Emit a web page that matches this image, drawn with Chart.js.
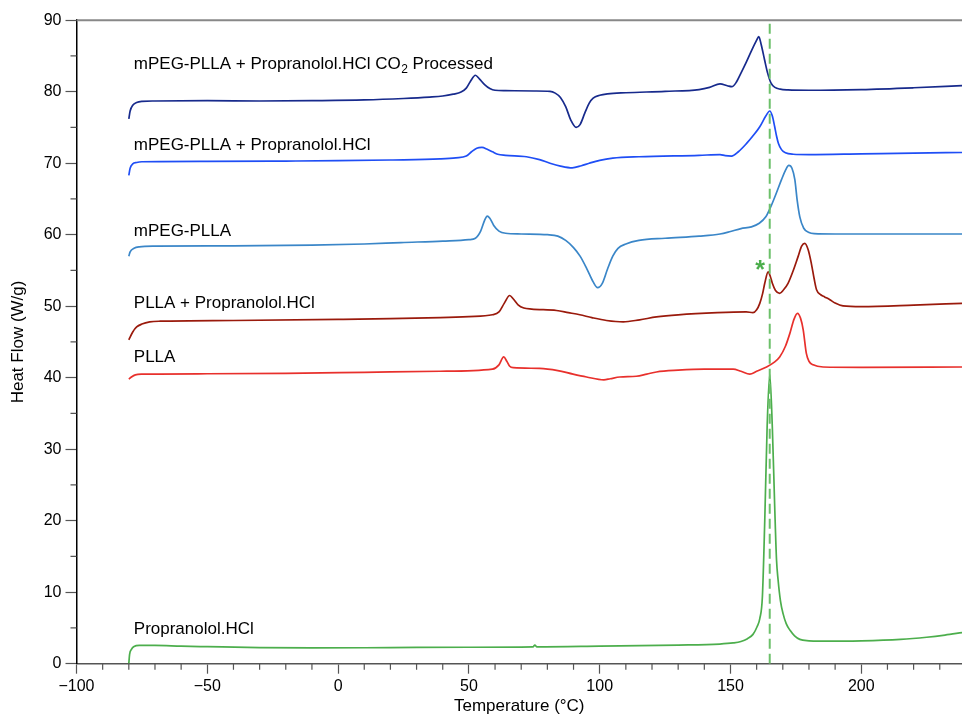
<!DOCTYPE html>
<html><head><meta charset="utf-8">
<script src="https://cdn.jsdelivr.net/npm/chart.js@4.4.1/dist/chart.umd.min.js"></script>
<style>html,body{margin:0;padding:0;background:#fff;}#wrap{width:962px;height:714px;}</style>
</head><body><div id="wrap"><canvas id="c" width="962" height="714"></canvas></div>
<script>
const FONT = '"Liberation Sans", Arial, Helvetica, sans-serif';

// ---- axes ----
const xTicks = [-100, -50, 0, 50, 100, 150, 200];
const xMinorTicks = [-90, -80, -70, -60, -40, -30, -20, -10, 10, 20, 30, 40, 60, 70, 80, 90, 110, 120, 130, 140, 160, 170, 180, 190, 210, 220, 230];
const yTicks = [0, 10, 20, 30, 40, 50, 60, 70, 80, 90];
const yMinorTicks = [5, 15, 25, 35, 45, 55, 65, 75, 85];
const meltTemp = 165;

// ---- series: [temperature °C, heat flow W/g] ----
const co2Processed = [[-80,76.2],[-79.5,77.3],[-78.5,78.1],[-77,78.5],[-75,78.65],[-70,78.7],[-50,78.75],[-30,78.7],[-10,78.75],[10,78.85],[25,79.05],[35,79.25],[40,79.4],[44,79.65],[47,79.95],[49,80.5],[50.5,81.4],[52.5,82.3],[54,81.8],[56,81.0],[58,80.45],[60,80.2],[64,80.15],[75,80.1],[81,80.05],[83,79.8],[85,79.2],[87,77.9],[89,76.0],[91,75.0],[92.5,75.4],[94.3,77.0],[96,78.4],[97.5,79.1],[100,79.5],[103,79.7],[110,79.85],[125,80.05],[138,80.3],[142,80.6],[146,81.1],[149,80.8],[150.5,80.7],[152,81.2],[154,82.6],[156,84.1],[158,85.7],[160,87.2],[160.8,87.7],[161.8,86.5],[163,84.5],[164.2,82.6],[165.5,81.2],[167,80.6],[169,80.35],[172,80.25],[180,80.2],[200,80.3],[220,80.55],[238.5,80.85]];
const mpegPllaDrug = [[-80,68.3],[-79.5,69.3],[-78.5,69.9],[-77,70.1],[-75,70.2],[-50,70.25],[-20,70.3],[0,70.35],[20,70.45],[39,70.6],[45,70.75],[49,71.0],[51,71.6],[53,72.1],[55,72.2],[57,71.95],[59,71.6],[61,71.25],[64,71.1],[72,70.9],[77,70.5],[81,70.0],[85,69.6],[89.5,69.35],[93,69.65],[96,70.0],[100,70.4],[105,70.7],[115,70.9],[138,71.1],[146,71.2],[148,71.05],[150.4,71.0],[153,71.6],[156,72.7],[159,74.0],[161.2,75.1],[163.5,76.6],[165,77.3],[166,76.6],[166.9,75.1],[167.6,73.8],[168.3,72.8],[169.5,71.9],[171,71.45],[174,71.25],[180,71.2],[200,71.3],[220,71.4],[238.5,71.5]];
const mpegPlla = [[-80,57.0],[-79.5,57.6],[-78,58.1],[-76,58.3],[-70,58.4],[-40,58.45],[-10,58.55],[10,58.7],[24,58.9],[40,59.1],[50,59.3],[52.5,59.5],[54.5,60.5],[56,62.0],[57,62.6],[58,62.3],[59.5,61.3],[61.5,60.5],[64,60.2],[70,60.1],[80,60.0],[84,59.8],[87,59.2],[90,58.2],[92.5,57.0],[95,55.3],[97.5,53.4],[99.2,52.6],[101,53.2],[103,55.2],[105,57.0],[107,58.1],[110,58.7],[115,59.2],[125,59.5],[138,59.8],[146,60.1],[150,60.45],[154,60.85],[158,61.1],[161,61.6],[163.5,62.5],[165.5,64.0],[167.5,65.8],[169.5,67.7],[171,69.0],[172.3,69.7],[173.5,69.3],[174.6,67.7],[175.5,64.8],[176.5,62.5],[178,60.9],[180,60.3],[182,60.15],[190,60.1],[238.5,60.1]];
const pllaDrug = [[-80,45.3],[-78.5,46.4],[-77,47.1],[-75,47.5],[-72,47.8],[-68,47.9],[-40,48.0],[0,48.15],[20,48.25],[39,48.4],[50,48.55],[59,48.8],[61.5,49.2],[63.5,50.4],[65.6,51.5],[67,51.0],[68.8,50.2],[71,49.75],[74,49.6],[83.5,49.4],[88,49.1],[92.4,48.8],[97,48.4],[102.6,48.0],[109,47.8],[115.3,48.1],[121.7,48.5],[130,48.8],[145,49.1],[156,49.2],[158.6,49.1],[160,49.5],[161.2,50.4],[162.3,51.8],[163.1,53.2],[164.4,54.8],[165.2,54.2],[166,53.2],[167.2,52.2],[168.8,51.8],[170.3,52.3],[172,53.2],[174,55.0],[175.8,56.9],[177.2,58.4],[178.4,58.8],[179.7,57.9],[180.9,56.0],[182,53.8],[182.9,52.3],[184.5,51.6],[186,51.3],[188,50.9],[190,50.45],[193,50.05],[200,49.95],[220,50.15],[238.5,50.4]];
const plla = [[-80,39.8],[-79,40.1],[-77.5,40.4],[-75,40.5],[-50,40.55],[-20,40.6],[10,40.75],[39,40.9],[59,41.2],[61.5,41.8],[63.3,42.9],[64.5,42.3],[65.6,41.6],[67,41.4],[77,41.3],[84,41.0],[89.8,40.5],[95,40.1],[101.6,39.7],[104,39.85],[107.7,40.1],[114,40.2],[118,40.5],[121.7,40.8],[130,41.05],[140,41.2],[151,41.2],[154,40.9],[157.4,40.5],[160,40.9],[163.8,41.5],[166.5,42.1],[168.8,42.9],[171,44.4],[172.7,46.2],[174.3,48.2],[175.6,49.0],[176.8,48.3],[177.8,46.7],[179,43.4],[180,42.3],[181.6,41.8],[185.4,41.5],[200,41.45],[238.5,41.5]];
const propranolol = [[-80,0.05],[-79.7,1.3],[-79,2.0],[-78,2.4],[-76,2.55],[-70,2.55],[-60,2.45],[-50,2.38],[-30,2.25],[-10,2.2],[20,2.25],[50,2.3],[74.5,2.35],[75.2,2.6],[76,2.35],[100,2.45],[130,2.6],[145.9,2.75],[151,2.9],[154,3.1],[156.5,3.5],[158.6,4.1],[160.2,5.2],[161.2,6.3],[162.2,9.4],[163.1,20],[164,33],[165,40.5],[166,33],[166.9,22],[167.6,14.5],[168.2,11.7],[169.1,8.8],[170.1,7.0],[171.3,5.6],[172.7,4.7],[174.5,3.9],[176.5,3.4],[180,3.2],[184,3.15],[200,3.2],[215,3.4],[225,3.7],[232,4.0],[238.5,4.35]];

const seriesNames = ['mPEG-PLLA + Propranolol.HCl CO2 Processed','mPEG-PLLA + Propranolol.HCl','mPEG-PLLA','PLLA + Propranolol.HCl','PLLA','Propranolol.HCl'];
const seriesData = [co2Processed, mpegPllaDrug, mpegPlla, pllaDrug, plla, propranolol];
const seriesColors = ['#172a8c','#1f4ef5','#3a86c8','#9a1a0c','#e8302c','#4cae4c'];
// label anchor: [temperature, heat flow] of text baseline start
const labelAnchors = [[-78.1,83.15],[-78.1,71.85],[-78.1,59.86],[-78.1,49.7],[-78.1,42.24],[-78.1,4.22]];

const toXY = arr => arr.map(p => ({x: p[0], y: p[1]}));
const fmt = v => v < 0 ? '\u2212' + Math.abs(v) : String(v);

const datasets = [{
  label: 'melt', data: [{x: meltTemp, y: 0}, {x: meltTemp, y: 90}],
  borderColor: '#6cc06a', borderWidth: 2, borderDash: [10, 5], pointRadius: 0, tension: 0
}];
seriesData.forEach((d, i) => datasets.push({
  label: seriesNames[i], data: toXY(d), borderColor: seriesColors[i], borderWidth: 1.7,
  pointRadius: 0, cubicInterpolationMode: 'monotone'
}));

const decor = {
  id: 'decor',
  afterDraw(chart) {
    const ctx = chart.ctx, a = chart.chartArea, xs = chart.scales.x, ys = chart.scales.y;
    ctx.save();
    // top frame
    ctx.strokeStyle = '#888'; ctx.lineWidth = 2;
    ctx.beginPath(); ctx.moveTo(a.left, a.top); ctx.lineTo(a.right, a.top); ctx.stroke();
    // minor ticks
    ctx.strokeStyle = '#555'; ctx.lineWidth = 1.2;
    ctx.beginPath();
    xMinorTicks.forEach(v => { const p = xs.getPixelForValue(v); ctx.moveTo(p, a.bottom); ctx.lineTo(p, a.bottom + 6); });
    yMinorTicks.forEach(v => { const p = ys.getPixelForValue(v); ctx.moveTo(a.left - 6, p); ctx.lineTo(a.left, p); });
    ctx.stroke();
    // labels
    ctx.fillStyle = '#000'; ctx.textAlign = 'left'; ctx.textBaseline = 'alphabetic';
    labelAnchors.forEach((an, i) => {
      let x = xs.getPixelForValue(an[0]); const y = ys.getPixelForValue(an[1]);
      if (i === 0) {
        const p1 = 'mPEG-PLLA + Propranolol.HCl CO';
        ctx.font = '17px ' + FONT; ctx.fillText(p1, x, y); x += ctx.measureText(p1).width;
        ctx.font = '12px ' + FONT; ctx.fillText('2', x + 0.5, y + 3.5); x += ctx.measureText('2').width + 0.5;
        ctx.font = '17px ' + FONT; ctx.fillText(' Processed', x, y);
      } else {
        ctx.font = '17px ' + FONT; ctx.fillText(seriesNames[i], x, y);
      }
    });
    // asterisk
    ctx.fillStyle = '#4cae4c'; ctx.font = 'bold 25px ' + FONT; ctx.textAlign = 'center';
    ctx.fillText('*', xs.getPixelForValue(161.3), ys.getPixelForValue(54.0));
    ctx.restore();
  }
};

new Chart(document.getElementById('c'), {
  type: 'line',
  data: { datasets },
  plugins: [decor],
  options: {
    responsive: false, animation: false, devicePixelRatio: 1,
    layout: { padding: { top: 20.2, right: 0, bottom: 0, left: 0 } },
    plugins: { legend: { display: false }, tooltip: { enabled: false } },
    scales: {
      x: {
        type: 'linear', min: -100, max: 238.5,
        afterBuildTicks: s => { s.ticks = xTicks.map(v => ({ value: v })); },
        afterFit: s => { s.height = 50.3; },
        ticks: { font: { family: FONT, size: 16 }, color: '#000', padding: 3, maxRotation: 0, autoSkip: false, callback: v => fmt(v) },
        grid: { drawOnChartArea: false, drawTicks: true, tickLength: 10, tickColor: '#555', tickWidth: 1.2 },
        border: { display: true, color: '#555', width: 1.5 },
        title: { display: true, text: 'Temperature (°C)', color: '#000', font: { family: FONT, size: 17, lineHeight: 1 }, padding: { top: 0, bottom: -0.5 } }
      },
      y: {
        type: 'linear', min: 0, max: 90,
        afterBuildTicks: s => { s.ticks = yTicks.map(v => ({ value: v })); },
        afterFit: s => { s.width = 76.5; },
        ticks: { font: { family: FONT, size: 16 }, color: '#000', padding: 4, autoSkip: false, callback: v => fmt(v) },
        grid: { drawOnChartArea: false, drawTicks: true, tickLength: 11, tickColor: '#555', tickWidth: 1.2 },
        border: { display: true, color: '#000', width: 1.5 },
        title: { display: true, text: 'Heat Flow (W/g)', color: '#000', font: { family: FONT, size: 17, lineHeight: 1 }, padding: { top: 10, bottom: 0 } }
      }
    }
  }
});
</script></body></html>
